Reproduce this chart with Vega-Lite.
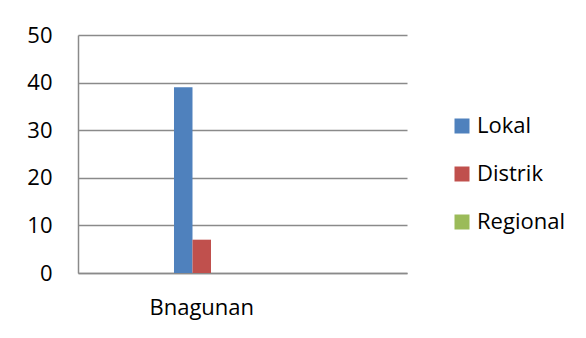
{
  "$schema": "https://vega.github.io/schema/vega-lite/v6.json",
  "autosize": {"type": "none"},
  "width": 329,
  "height": 238,
  "padding": {"left": 78, "top": 35, "right": 179, "bottom": 65},
  "background": "white",
  "config": {
    "view": {"stroke": null},
    "font": "Open Sans"
  },
  "data": {
    "values": [
      {"category": "Bnagunan", "series": "Lokal", "value": 39},
      {"category": "Bnagunan", "series": "Distrik", "value": 7},
      {"category": "Bnagunan", "series": "Regional", "value": 0}
    ]
  },
  "mark": {"type": "bar"},
  "encoding": {
    "x": {
      "field": "category",
      "type": "nominal",
      "scale": {"paddingInner": 0.594, "paddingOuter": 1, "align": 0.351},
      "axis": {
        "title": null,
        "labelAngle": 0,
        "ticks": false,
        "tickSize": 0,
        "labelPadding": 24,
        "labelFontSize": 22,
        "labelColor": "#000000",
        "labelFont": "Open Sans",
        "domainColor": "#8a8a8a",
        "domainWidth": 1.5
      }
    },
    "xOffset": {
      "field": "series",
      "type": "nominal",
      "sort": ["Lokal", "Distrik", "Regional"],
      "scale": {"paddingInner": 0, "paddingOuter": 0}
    },
    "y": {
      "field": "value",
      "type": "quantitative",
      "scale": {"domain": [0, 50], "nice": false},
      "axis": {
        "title": null,
        "values": [0, 10, 20, 30, 40, 50],
        "ticks": false,
        "tickSize": 0,
        "labelPadding": 26,
        "labelFontSize": 22,
        "labelColor": "#000000",
        "labelFont": "Open Sans",
        "domainColor": "#8a8a8a",
        "domainWidth": 1.5,
        "gridColor": "#8a8a8a",
        "gridWidth": 1.5
      }
    },
    "color": {
      "field": "series",
      "type": "nominal",
      "sort": ["Lokal", "Distrik", "Regional"],
      "scale": {"domain": ["Lokal", "Distrik", "Regional"], "range": ["#4F81BD", "#C0504D", "#9BBB59"]},
      "legend": {
        "title": null,
        "orient": "none",
        "legendX": 373,
        "legendY": 80,
        "symbolType": "square",
        "symbolSize": 225,
        "symbolStrokeWidth": 0,
        "labelFontSize": 22,
        "labelFont": "Open Sans",
        "labelColor": "#000000",
        "labelOffset": 4,
        "rowPadding": 26
      }
    }
  }
}
